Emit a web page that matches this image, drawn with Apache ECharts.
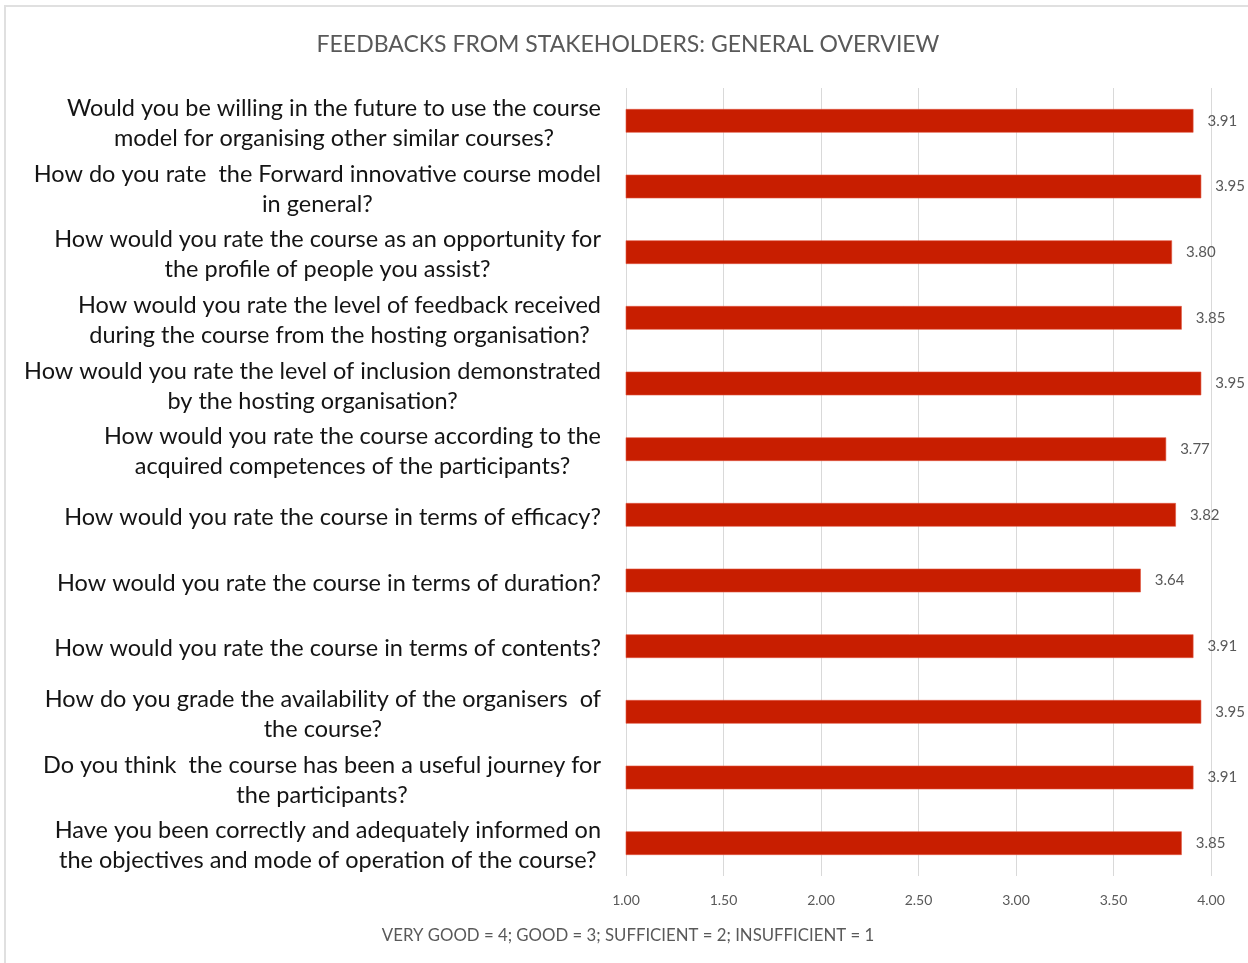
<!DOCTYPE html>
<html>
<head>
<meta charset="utf-8">
<style>
  html, body { margin: 0; padding: 0; background: #ffffff; }
  #chart { width: 1248px; height: 963px; }
</style>
<script src="https://cdn.jsdelivr.net/npm/echarts@6/dist/echarts.min.js"></script>
</head>
<body>
<div id="chart"></div>
<script>
// Survey questions, top to bottom
const questions = [
  'Would you be willing in the future to use the course\nmodel for organising other similar courses?',
  'How do you rate  the Forward innovative course model\nin general?',
  'How would you rate the course as an opportunity for\nthe profile of people you assist?',
  'How would you rate the level of feedback received\nduring the course from the hosting organisation?',
  'How would you rate the level of inclusion demonstrated\nby the hosting organisation?',
  'How would you rate the course according to the\nacquired competences of the participants?',
  'How would you rate the course in terms of efficacy?',
  'How would you rate the course in terms of duration?',
  'How would you rate the course in terms of contents?',
  'How do you grade the availability of the organisers  of\nthe course?',
  'Do you think  the course has been a useful journey for\nthe participants?',
  'Have you been correctly and adequately informed on\nthe objectives and mode of operation of the course?'
];

// Average score per question (scale 1-4)
const scores = [3.91, 3.95, 3.80, 3.85, 3.95, 3.77, 3.82, 3.64, 3.91, 3.95, 3.91, 3.85];

// Value axis ticks
const scaleMin = 1;
const scaleMax = 4;
const scaleStep = 0.5;

const chartTitle = 'FEEDBACKS FROM STAKEHOLDERS: GENERAL OVERVIEW';
const scaleNote = 'VERY GOOD = 4; GOOD = 3; SUFFICIENT = 2; INSUFFICIENT = 1';

const FONT = 'Lato, "Open Sans", sans-serif';
const GREY = '#595959';

const chart = echarts.init(document.getElementById('chart'), null, { renderer: 'canvas' });

chart.setOption({
  backgroundColor: '#ffffff',
  animation: false,
  grid: { left: 626, right: 37, top: 88, bottom: 87, containLabel: false },
  graphic: [
    {
      type: 'rect',
      shape: { x: 5, y: 6, width: 1260, height: 980 },
      style: { fill: 'none', stroke: '#e0e0e0', lineWidth: 2 },
      silent: true, z: -10
    },
    {
      type: 'text', x: 628, y: 45,
      style: { text: chartTitle, fill: GREY, font: '23px ' + FONT, textAlign: 'center', textVerticalAlign: 'middle' }
    },
    {
      type: 'text', x: 628, y: 936,
      style: { text: scaleNote, fill: GREY, font: '16.8px ' + FONT, textAlign: 'center', textVerticalAlign: 'middle' }
    }
  ],
  xAxis: {
    type: 'value',
    min: scaleMin,
    max: scaleMax,
    interval: scaleStep,
    axisLine: { show: false },
    axisTick: { show: false },
    splitLine: { show: true, lineStyle: { color: '#d9d9d9', width: 1 } },
    axisLabel: {
      color: GREY, fontFamily: FONT, fontSize: 14, margin: 17,
      formatter: v => v.toFixed(2)
    }
  },
  yAxis: {
    type: 'category',
    inverse: true,
    data: questions,
    axisLine: { show: false },
    axisTick: { show: false },
    axisLabel: {
      margin: 25,
      align: 'right',
      padding: [5, 0, 0, 0],
      formatter: s => s.split('\n').map(line => '{c|' + line + '}').join('\n'),
      rich: {
        c: { align: 'center', color: '#141414', fontFamily: FONT, fontSize: 23.5, lineHeight: 30 }
      }
    }
  },
  series: [{
    type: 'bar',
    data: scores,
    barWidth: '36%',
    itemStyle: { color: '#c81e00', borderColor: '#e0553f', borderWidth: 0.6 },
    label: {
      show: true,
      position: 'right',
      distance: 14,
      color: GREY,
      fontFamily: FONT,
      fontSize: 15,
      formatter: p => p.value.toFixed(2)
    }
  }]
});
</script>
</body>
</html>
